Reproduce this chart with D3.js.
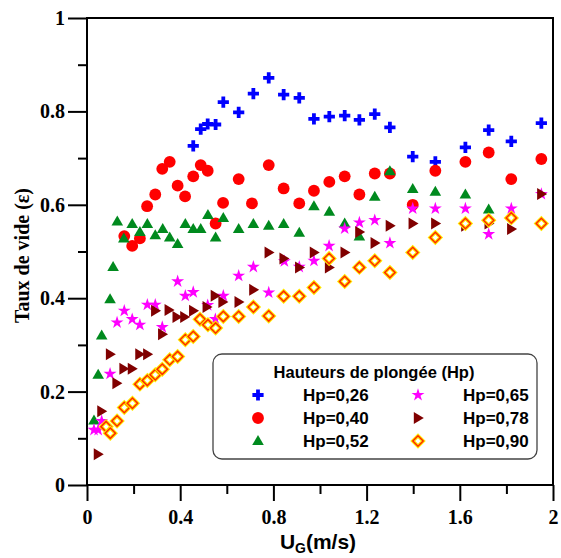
<!DOCTYPE html>
<html>
<head>
<meta charset="utf-8">
<script src="https://cdn.jsdelivr.net/npm/d3@7"></script>
<style>
  html, body { margin: 0; padding: 0; background: #fff; }
  svg { display: block; }
</style>
</head>
<body>
<svg id="chart" width="561" height="558"></svg>
<script>
// Void fraction versus superficial gas velocity, one series per plunging height.
// Each pair is [U_G (m/s), void fraction].
const hp026 = [[0.456,0.726],[0.488,0.762],[0.518,0.773],[0.552,0.772],[0.585,0.820],[0.651,0.798],[0.714,0.838],[0.780,0.872],[0.844,0.836],[0.911,0.829],[0.974,0.784],[1.040,0.789],[1.106,0.791],[1.169,0.782],[1.235,0.794],[1.300,0.766],[1.398,0.703],[1.495,0.692],[1.624,0.723],[1.724,0.760],[1.821,0.736],[1.950,0.775]];
const hp040 = [[0.160,0.533],[0.194,0.512],[0.227,0.528],[0.258,0.597],[0.293,0.622],[0.323,0.677],[0.355,0.692],[0.389,0.641],[0.421,0.618],[0.456,0.661],[0.488,0.685],[0.518,0.673],[0.552,0.560],[0.584,0.604],[0.651,0.655],[0.708,0.603],[0.780,0.685],[0.844,0.635],[0.911,0.603],[0.974,0.630],[1.040,0.649],[1.106,0.661],[1.169,0.622],[1.235,0.667],[1.300,0.667],[1.398,0.600],[1.495,0.673],[1.624,0.692],[1.724,0.712],[1.821,0.655],[1.950,0.698]];
const hp052 = [[0.030,0.138],[0.048,0.236],[0.063,0.320],[0.099,0.398],[0.112,0.467],[0.130,0.564],[0.158,0.528],[0.194,0.559],[0.227,0.542],[0.259,0.559],[0.293,0.535],[0.325,0.548],[0.355,0.530],[0.389,0.516],[0.422,0.559],[0.456,0.548],[0.488,0.548],[0.519,0.578],[0.552,0.530],[0.585,0.572],[0.651,0.548],[0.714,0.559],[0.780,0.555],[0.844,0.559],[0.911,0.540],[0.974,0.597],[1.040,0.585],[1.106,0.560],[1.169,0.532],[1.235,0.617],[1.300,0.672],[1.398,0.634],[1.495,0.628],[1.624,0.622],[1.724,0.590]];
const hp065 = [[0.030,0.118],[0.048,0.118],[0.063,0.137],[0.099,0.238],[0.129,0.348],[0.160,0.373],[0.194,0.355],[0.227,0.343],[0.259,0.386],[0.293,0.386],[0.323,0.338],[0.389,0.436],[0.422,0.405],[0.456,0.413],[0.518,0.385],[0.551,0.355],[0.585,0.405],[0.651,0.448],[0.714,0.467],[0.780,0.412],[0.847,0.479],[0.911,0.467],[0.974,0.480],[1.039,0.512],[1.106,0.549],[1.169,0.562],[1.235,0.567],[1.300,0.518],[1.398,0.592],[1.495,0.592],[1.624,0.592],[1.724,0.537],[1.821,0.592],[1.950,0.623]];
const hp078 = [[0.047,0.066],[0.062,0.158],[0.099,0.280],[0.127,0.218],[0.157,0.249],[0.193,0.249],[0.225,0.280],[0.259,0.280],[0.293,0.373],[0.323,0.323],[0.351,0.375],[0.385,0.360],[0.418,0.360],[0.456,0.373],[0.514,0.381],[0.549,0.405],[0.582,0.392],[0.651,0.392],[0.714,0.418],[0.780,0.498],[0.844,0.485],[0.911,0.466],[0.974,0.498],[1.039,0.466],[1.106,0.498],[1.169,0.542],[1.235,0.518],[1.300,0.555],[1.398,0.560],[1.495,0.560],[1.624,0.555],[1.724,0.560],[1.821,0.548],[1.950,0.623]];
const hp090 = [[0.082,0.125],[0.100,0.111],[0.129,0.137],[0.160,0.166],[0.195,0.175],[0.227,0.216],[0.259,0.224],[0.293,0.236],[0.323,0.248],[0.355,0.268],[0.389,0.275],[0.422,0.311],[0.456,0.318],[0.485,0.355],[0.519,0.343],[0.552,0.336],[0.585,0.361],[0.651,0.361],[0.714,0.381],[0.780,0.362],[0.844,0.404],[0.911,0.404],[0.974,0.423],[1.039,0.485],[1.106,0.436],[1.169,0.466],[1.235,0.480],[1.300,0.455],[1.398,0.498],[1.495,0.530],[1.624,0.560],[1.724,0.567],[1.821,0.572],[1.950,0.560]];

const seriesLabels = ["Hp=0,26","Hp=0,40","Hp=0,52","Hp=0,65","Hp=0,78","Hp=0,90"];
const xMajorTicks = [0, 0.4, 0.8, 1.2, 1.6, 2];
const xMinorTicks = [0.2, 0.6, 1.0, 1.4, 1.8];
const yMajorTicks = [0, 0.2, 0.4, 0.6, 0.8, 1];
const yMinorTicks = [0.1, 0.3, 0.5, 0.7, 0.9];
const legendTitle = "Hauteurs de plongée (Hp)";

const svg = d3.select("#chart");
const plotLeft = 87, plotRight = 553, plotTop = 18, plotBottom = 485;

const x = d3.scaleLinear().domain([0, 2]).range([plotLeft, plotRight]);
const y = d3.scaleLinear().domain([0, 1]).range([plotBottom, plotTop]);

const serif = "'Liberation Serif', 'Times New Roman', serif";
const sans = "'Liberation Sans', Arial, sans-serif";

// marker shapes, centred on the origin
const markers = {
  cross: () => {
    const a = 5.6, t = 1.9;
    return `M${-t},${-a}H${t}V${-t}H${a}V${t}H${t}V${a}H${-t}V${t}H${-a}V${-t}H${-t}Z`;
  },
  circle: () => d3.symbol(d3.symbolCircle, 110)(),
  triUp: () => "M0,-6L5.8,4L-5.8,4Z",
  star: () => d3.symbol(d3.symbolStar, 52)(),
  triRight: () => "M5.8,0L-4.2,6L-4.2,-6Z",
  diamond: () => "M0,-5.2L5.2,0L0,5.2L-5.2,0Z"
};

const series = [
  { data: hp026, shape: "cross",    fill: "#0000ff" },
  { data: hp040, shape: "circle",   fill: "#ff0000" },
  { data: hp052, shape: "triUp",    fill: "#008a1e" },
  { data: hp065, shape: "star",     fill: "#ff00ff" },
  { data: hp078, shape: "triRight", fill: "#800000" },
  { data: hp090, shape: "diamond",  fill: "none" }
];

function drawMarker(g, s) {
  if (s.shape === "diamond") {
    g.append("path").attr("d", markers.diamond())
      .attr("fill", "#fff").attr("stroke", "#ffe800").attr("stroke-width", 3.6)
      .attr("stroke-linejoin", "miter");
    g.append("path").attr("d", markers.diamond())
      .attr("fill", "none").attr("stroke", "#ff2a00").attr("stroke-width", 1.5);
  } else {
    g.append("path").attr("d", markers[s.shape]()).attr("fill", s.fill);
  }
}

// axes ticks
const xAxisMajor = d3.axisBottom(x).tickValues(xMajorTicks).tickSize(16).tickPadding(9)
  .tickFormat(d => d3.format("")(d));
const xAxisMinor = d3.axisBottom(x).tickValues(xMinorTicks).tickSize(9).tickFormat("");
const yAxisMajor = d3.axisLeft(y).tickValues(yMajorTicks).tickSize(19).tickPadding(3)
  .tickFormat(d => d3.format("")(d));
const yAxisMinor = d3.axisLeft(y).tickValues(yMinorTicks).tickSize(9).tickFormat("");

function styleAxis(g) {
  g.select(".domain").remove();
  g.selectAll("line").attr("stroke", "#000").attr("stroke-width", 2);
  g.selectAll("text").attr("font-family", serif).attr("font-weight", "bold")
    .attr("font-size", 20).attr("fill", "#000");
}

svg.append("g").attr("transform", `translate(0,${plotBottom})`).call(xAxisMajor).call(styleAxis);
svg.append("g").attr("transform", `translate(0,${plotBottom})`).call(xAxisMinor).call(styleAxis);
svg.append("g").attr("transform", `translate(${plotLeft},0)`).call(yAxisMajor).call(styleAxis);
svg.append("g").attr("transform", `translate(${plotLeft},0)`).call(yAxisMinor).call(styleAxis);

// frame
svg.append("rect").attr("x", plotLeft).attr("y", plotTop)
  .attr("width", plotRight - plotLeft).attr("height", plotBottom - plotTop)
  .attr("fill", "none").attr("stroke", "#000").attr("stroke-width", 2);

// data markers
const plot = svg.append("g");
series.forEach(s => {
  s.data.forEach(([u, e]) => {
    const g = plot.append("g").attr("transform", `translate(${x(u)},${y(e)})`);
    drawMarker(g, s);
  });
});

// axis titles
svg.append("text")
  .attr("transform", `translate(29,${(plotTop + plotBottom) / 2 + 4}) rotate(-90)`)
  .attr("text-anchor", "middle")
  .attr("font-family", serif).attr("font-weight", "bold").attr("font-size", 20)
  .text("Taux de vide (ε)");

const xt = svg.append("text")
  .attr("x", (plotLeft + plotRight) / 2 - 2).attr("y", 549)
  .attr("text-anchor", "middle")
  .attr("font-family", sans).attr("font-weight", "bold").attr("font-size", 21);
xt.append("tspan").text("U");
xt.append("tspan").attr("font-size", 14).attr("dy", 4).text("G");
xt.append("tspan").attr("dy", -4).text("(m/s)");

// legend
const lg = svg.append("g");
lg.append("rect").attr("x", 213).attr("y", 354).attr("width", 324).attr("height", 105)
  .attr("rx", 9).attr("fill", "#fff").attr("stroke", "#444").attr("stroke-width", 1.3);
lg.append("text").attr("x", 374).attr("y", 378).attr("text-anchor", "middle")
  .attr("font-family", sans).attr("font-weight", "bold").attr("font-size", 16.5)
  .text(legendTitle);

series.forEach((s, i) => {
  const col = Math.floor(i / 3), row = i % 3;
  const cy = 395 + row * 23;
  const mx = col === 0 ? 258 : 418;
  const g = lg.append("g").attr("transform", `translate(${mx},${cy})`);
  drawMarker(g, s);
  lg.append("text").attr("x", col === 0 ? 303 : 463).attr("y", cy + 6)
    .attr("font-family", sans).attr("font-weight", "bold").attr("font-size", 17)
    .text(seriesLabels[i]);
});
</script>
</body>
</html>
